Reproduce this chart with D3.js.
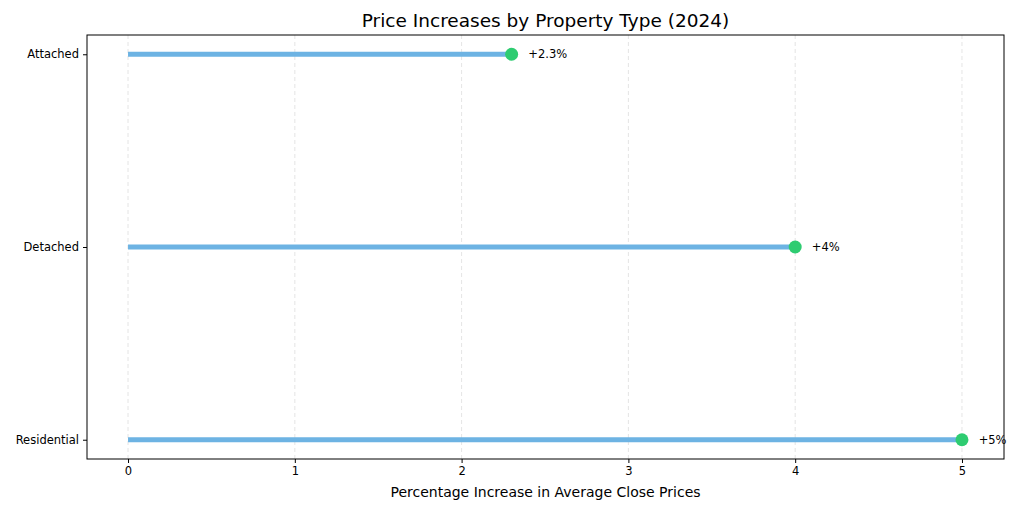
<!DOCTYPE html>
<html>
<head>
<meta charset="utf-8">
<script src="https://cdn.jsdelivr.net/npm/d3@7"></script>
<style>
  body { margin: 0; background: #fff; }
  text { font-family: "DejaVu Sans", sans-serif; fill: #000; }
</style>
</head>
<body>
<svg id="chart" width="1024" height="512"></svg>
<script>
// data
const categories = ["Residential", "Detached", "Attached"];
const increases = [5, 4, 2.3];
const labels = ["+5%", "+4%", "+2.3%"];
const xTicks = [0, 1, 2, 3, 4, 5];

const svg = d3.select("#chart");
const M = { left: 87, right: 1004, top: 35, bottom: 459 };

const x = d3.scaleLinear().domain([-0.246, 5.252]).range([M.left, M.right]);
const y = d3.scaleLinear().domain([-0.1, 2.1]).range([M.bottom, M.top]);

// grid
svg.append("g").selectAll("line").data(xTicks).join("line")
    .attr("x1", d => x(d)).attr("x2", d => x(d))
    .attr("y1", M.top).attr("y2", M.bottom)
    .attr("stroke", "#ddd").attr("stroke-dasharray", "4,3").attr("stroke-width", 0.8);

const rows = categories.map((c, i) => ({ c, i, v: increases[i], label: labels[i] }));

// stems
svg.append("g").selectAll("line").data(rows).join("line")
    .attr("x1", x(0)).attr("x2", d => x(d.v))
    .attr("y1", d => y(d.i)).attr("y2", d => y(d.i))
    .attr("stroke", "#6db3e3").attr("stroke-width", 5);

// dots
svg.append("g").selectAll("circle").data(rows).join("circle")
    .attr("cx", d => x(d.v)).attr("cy", d => y(d.i)).attr("r", 6.5)
    .attr("fill", "#2ecc71");

// value labels
svg.append("g").selectAll("text").data(rows).join("text")
    .attr("x", d => x(d.v + 0.1)).attr("y", d => y(d.i)).attr("dy", "0.35em")
    .attr("font-size", 11.5).text(d => d.label);

// axes
const xAxis = svg.append("g").attr("transform", `translate(0,${M.bottom})`)
    .call(d3.axisBottom(x).tickValues(xTicks).tickSize(4).tickPadding(4).tickFormat(d3.format("d")));
const yAxis = svg.append("g").attr("transform", `translate(${M.left},0)`)
    .call(d3.axisLeft(y).tickValues([0, 1, 2]).tickSize(4).tickPadding(4).tickFormat(i => categories[i]));
[xAxis, yAxis].forEach(a => {
    a.select(".domain").remove();
    a.selectAll("text").attr("font-size", 11.5).style("font-family", "DejaVu Sans");
});

// frame
svg.append("rect").attr("x", M.left).attr("y", M.top)
    .attr("width", M.right - M.left).attr("height", M.bottom - M.top)
    .attr("fill", "none").attr("stroke", "#000").attr("stroke-width", 1);

svg.append("text").attr("x", (M.left + M.right) / 2).attr("y", 27)
    .attr("text-anchor", "middle").attr("font-size", 18.5)
    .text("Price Increases by Property Type (2024)");
svg.append("text").attr("x", (M.left + M.right) / 2).attr("y", 497)
    .attr("text-anchor", "middle").attr("font-size", 14)
    .text("Percentage Increase in Average Close Prices");
</script>
</body>
</html>
